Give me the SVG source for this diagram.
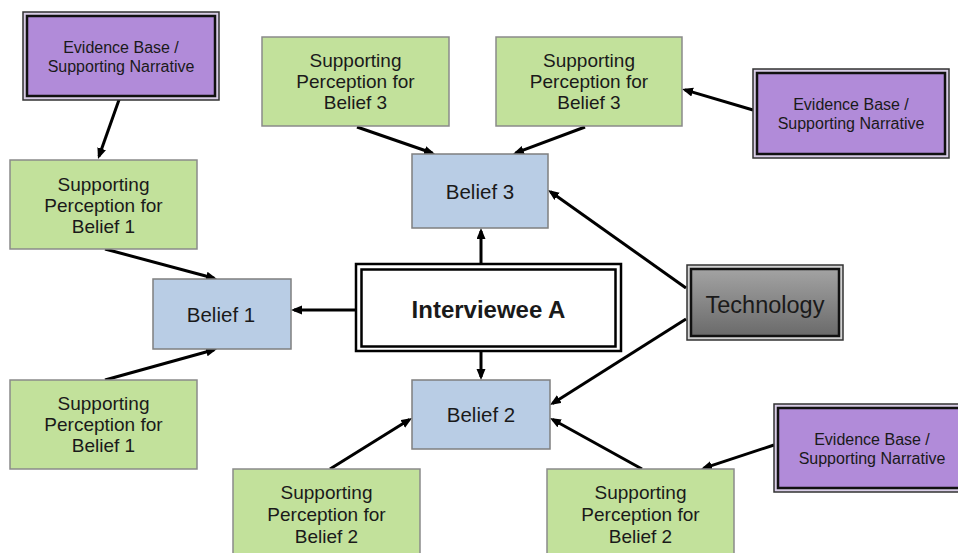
<svg xmlns="http://www.w3.org/2000/svg" width="958" height="553" viewBox="0 0 958 553">
<style>
text{font-family:"Liberation Sans",Arial,sans-serif;fill:#1a1a1a;text-anchor:middle}
.sp rect{fill:#c2e19b;stroke:#8a8a8a;stroke-width:1.5}
.sp text{font-size:19px}
.bel rect{fill:#b9cde5;stroke:#7f7f7f;stroke-width:1.5}
.bel text{font-size:20.5px}
.ev .o{fill:#d8cde6;stroke:#333;stroke-width:1.5}
.ev .i{fill:#b18bd9;stroke:#111;stroke-width:2.5}
.ev text{font-size:16px}
.conn line{stroke:#000;stroke-width:3;marker-end:url(#ah)}
</style>
<defs>
<marker id="ah" markerUnits="userSpaceOnUse" markerWidth="12" markerHeight="10" refX="8" refY="4.5" orient="auto">
<path d="M0,0 L11,4.5 L0,9 z" fill="#000"/>
</marker>
<linearGradient id="tg" x1="0" y1="0" x2="0" y2="1">
<stop offset="0" stop-color="#a3a3a3"/>
<stop offset="1" stop-color="#6a6a6a"/>
</linearGradient>
</defs>
<rect width="958" height="553" fill="#fff"/>

<g id="conn" class="conn">
<line x1="120" y1="97" x2="99" y2="156.2"/>
<line x1="105" y1="249" x2="214.1" y2="278.2"/>
<line x1="105" y1="380" x2="214.1" y2="349.8"/>
<line x1="356" y1="310" x2="294" y2="310"/>
<line x1="481" y1="264" x2="481" y2="231"/>
<line x1="481" y1="351" x2="481" y2="377"/>
<line x1="357" y1="127" x2="432.2" y2="153"/>
<line x1="585" y1="127" x2="515.8" y2="152.9"/>
<line x1="753" y1="110" x2="684.9" y2="89.9"/>
<line x1="686" y1="288" x2="550.5" y2="191.7"/>
<line x1="686" y1="319" x2="552.5" y2="403.4"/>
<line x1="642" y1="469" x2="552.6" y2="419.5"/>
<line x1="330" y1="469" x2="409.5" y2="419.6"/>
<line x1="774" y1="445" x2="703.9" y2="468.1"/>
</g>

<g id="ev1" class="ev">
<rect class="o" x="23" y="12" width="196" height="88"/>
<rect class="i" x="27" y="16" width="188" height="80"/>
<text x="121" y="53">Evidence Base /</text>
<text x="121" y="72">Supporting Narrative</text>
</g>
<g id="ev3" class="ev">
<rect class="o" x="753" y="69" width="196" height="89"/>
<rect class="i" x="757" y="73" width="188" height="81"/>
<text x="851" y="110">Evidence Base /</text>
<text x="851" y="129">Supporting Narrative</text>
</g>
<g id="ev2" class="ev">
<rect class="o" x="774" y="404" width="196" height="88"/>
<rect class="i" x="778" y="408" width="188" height="80"/>
<text x="872" y="445">Evidence Base /</text>
<text x="872" y="464">Supporting Narrative</text>
</g>

<g id="sp1a" class="sp">
<rect x="10" y="160" width="187" height="89"/>
<text x="103.5" y="191">Supporting</text>
<text x="103.5" y="212">Perception for</text>
<text x="103.5" y="233">Belief 1</text>
</g>
<g id="sp1b" class="sp">
<rect x="10" y="380" width="187" height="89"/>
<text x="103.5" y="410">Supporting</text>
<text x="103.5" y="431">Perception for</text>
<text x="103.5" y="452">Belief 1</text>
</g>
<g id="sp3a" class="sp">
<rect x="262" y="37" width="187" height="89"/>
<text x="355.5" y="67">Supporting</text>
<text x="355.5" y="88">Perception for</text>
<text x="355.5" y="109">Belief 3</text>
</g>
<g id="sp3b" class="sp">
<rect x="496" y="37" width="186" height="89"/>
<text x="589" y="67">Supporting</text>
<text x="589" y="88">Perception for</text>
<text x="589" y="109">Belief 3</text>
</g>
<g id="sp2a" class="sp">
<rect x="233" y="469" width="187" height="92"/>
<text x="326.5" y="499">Supporting</text>
<text x="326.5" y="521">Perception for</text>
<text x="326.5" y="543">Belief 2</text>
</g>
<g id="sp2b" class="sp">
<rect x="547" y="469" width="187" height="92"/>
<text x="640.5" y="499">Supporting</text>
<text x="640.5" y="521">Perception for</text>
<text x="640.5" y="543">Belief 2</text>
</g>

<g id="belief1" class="bel">
<rect x="153" y="279" width="138" height="70"/>
<text x="221" y="322">Belief 1</text>
</g>
<g id="belief3" class="bel">
<rect x="412" y="154" width="136" height="74"/>
<text x="480" y="199">Belief 3</text>
</g>
<g id="belief2" class="bel">
<rect x="412" y="380" width="138" height="69"/>
<text x="481" y="422">Belief 2</text>
</g>

<g id="interviewee">
<rect x="356" y="264" width="265" height="87" fill="#fff" stroke="#000" stroke-width="2.5"/>
<rect x="361.5" y="269.5" width="254" height="77" fill="#fff" stroke="#000" stroke-width="2.5"/>
<text x="488.5" y="318" style="font-size:24px;font-weight:bold">Interviewee A</text>
</g>

<g id="technology">
<rect x="687" y="265" width="156" height="75" fill="#d2d2d2" stroke="#333" stroke-width="1.5"/>
<rect x="691" y="269" width="148" height="67" fill="url(#tg)" stroke="#111" stroke-width="2.5"/>
<text x="765" y="313" style="font-size:23.5px">Technology</text>
</g>
</svg>
